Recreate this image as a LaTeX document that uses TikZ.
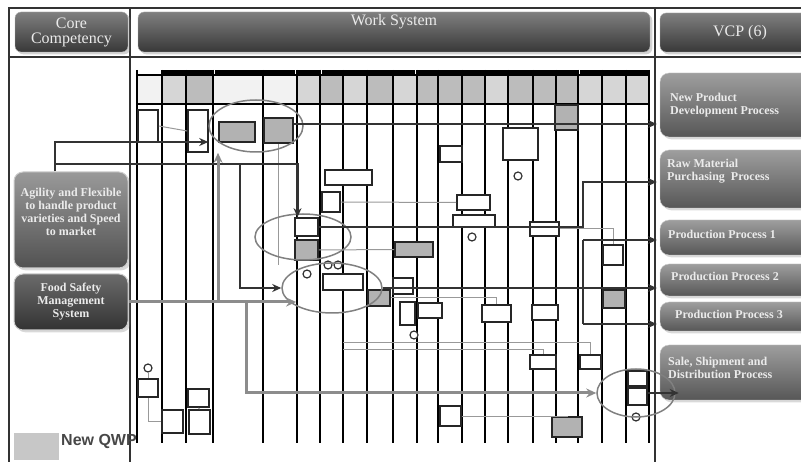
\documentclass[tikz,border=0pt]{standalone}
\usepackage{fontspec}
\setmainfont{Liberation Serif}
\setsansfont{Liberation Sans}
\usepackage{tikz}
\usetikzlibrary{shadows, shapes.geometric, positioning, arrows.meta}

\definecolor{hdrA}{HTML}{D6D6D6}
\definecolor{hdrB}{HTML}{BCBCBC}
\definecolor{hdrW}{HTML}{F2F2F2}

\begin{document}
\begin{tikzpicture}[x=1pt, y=-1pt,
        every node/.style={inner sep=0pt},
        hdrbox/.style={rectangle, rounded corners=6pt, top color=black!50, bottom color=black!78, draw=black!30, drop shadow={opacity=0.35}},
        corebox/.style={rectangle, rounded corners=9pt, draw=white!80!black, line width=1pt, drop shadow={opacity=0.3}},
        vcpbox/.style={rectangle, rounded corners=9pt, top color=black!38, bottom color=black!66, draw=white!80!black, drop shadow={opacity=0.3}},
        hdrtext/.style={font=\fontsize{16}{15}\selectfont, text=white!92!black, align=center},
        captext/.style={font=\bfseries\fontsize{12}{13}\selectfont, text=white!92!black},
        task/.style={rectangle, draw=black!85, fill=white, line width=1.7pt},
        newtask/.style={task, fill=black!30},
        conn/.style={circle, draw=black!80, fill=white, line width=1.2pt, minimum size=8pt},
        ring/.style={ellipse, draw=black!50, line width=1.5pt},
        border/.style={draw=black!80, line width=1.6pt},
        lane/.style={draw=black, line width=1.7pt},
        band/.style={draw=black, line width=3.5pt},
        flow/.style={draw=black!40, line width=1pt},
        mainarrow/.style={->, >={Stealth[length=9pt, width=8pt]}, draw=black!80, line width=2.7pt},
        fsarrow/.style={->, >={Stealth[length=10pt, width=9pt]}, draw=black!45, line width=3pt}
    ]
    \useasboundingbox (0,0) rectangle (801,462);
%
    % Frame
    \draw[border] (8,8) -- (801,8) (8,57) -- (801,57);
    \draw[border] (9,8) -- (9,462) (130,8) -- (130,462) (655,8) -- (655,462);
%
    % Headers
    \node[hdrbox, minimum width=113pt, minimum height=40pt] (core) at (71.5,32) {};
    \node[hdrtext] (core_txt) at (core) {Core\\Competency};
    \node[hdrbox, minimum width=512pt, minimum height=40pt] (work) at (394,32) {};
    \node[hdrtext] (work_txt) at (394,22) {Work System};
    \node[hdrbox, minimum width=160pt, minimum height=39pt] (vcp) at (740,32.5) {};
    \node[hdrtext] (vcp_txt) at (vcp) {VCP (6)};
%
    % Core competency side
    \node[corebox, top color=black!40, bottom color=black!68, minimum width=114pt, minimum height=96pt] (agility) at (71,220) {};
    \node[captext, align=center] (agility_txt) at (71,212) {Agility and Flexible\\to handle product\\varieties and Speed\\to market};
    \node[corebox, top color=black!58, bottom color=black!80, minimum width=114pt, minimum height=56pt, captext, align=center] (food) at (71,302) {Food Safety\\Management\\System};
%
    % VCP side
    \node[vcpbox, minimum width=160pt, minimum height=64pt] (npd) at (740,105) {};
    \node[captext, anchor=west, align=left] (npd_txt) at (670,105) {New Product\\Development Process};
    \node[vcpbox, minimum width=160pt, minimum height=58pt] (raw) at (740,179) {};
    \node[captext, anchor=west, align=left] (raw_txt) at (667,171) {Raw Material\\Purchasing\ \ Process};
    \node[vcpbox, minimum width=160pt, minimum height=35pt] (pp1) at (740,237.5) {};
    \node[captext, anchor=west] (pp1_txt) at (668,234) {Production Process 1};
    \node[vcpbox, minimum width=160pt, minimum height=32pt] (pp2) at (740,280) {};
    \node[captext, anchor=west] (pp2_txt) at (671,276) {Production Process 2};
    \node[vcpbox, minimum width=160pt, minimum height=29pt] (pp3) at (740,316.5) {};
    \node[captext, anchor=west] (pp3_txt) at (675,314) {Production Process 3};
    \node[vcpbox, minimum width=160pt, minimum height=55pt] (sale) at (740,372.5) {};
    \node[captext, anchor=west, align=left] (sale_txt) at (668,368) {Sale, Shipment and\\Distribution Process};
%
    % Work system grid
    \fill[hdrW] (137,75) rectangle (162,104) (213,75) rectangle (297,104);
    \fill[hdrA] (162,75) rectangle (186,104) (297,75) rectangle (320,104) (343,75) rectangle (367,104)
        (393,75) rectangle (417,104) (485,75) rectangle (508,104) (578,75) rectangle (649,104);
    \fill[hdrB] (186,75) rectangle (213,104) (320,75) rectangle (343,104) (367,75) rectangle (393,104)
        (417,75) rectangle (485,104) (508,75) rectangle (578,104);
    \draw[band] (162,72) -- (213,72) (215,72) -- (295,72) (298,72) -- (319,72) (322,72) -- (415,72)
        (418,72) -- (577,72) (580,72) -- (649,72);
    \draw[lane] (137,75) -- (649,75);
    \draw[lane, line width=2.2pt] (137,104) -- (649,104);
    \draw[lane] (137,70) -- (137,443) (162,70) -- (162,443) (186,70) -- (186,443) (213,70) -- (213,443)
        (263,70) -- (263,443) (297,70) -- (297,443) (320,70) -- (320,443) (343,70) -- (343,443)
        (367,70) -- (367,443) (393,70) -- (393,443) (417,70) -- (417,443) (438,70) -- (438,443)
        (462,70) -- (462,443) (485,70) -- (485,443) (508,70) -- (508,443) (533,70) -- (533,443)
        (556,70) -- (556,443) (578,70) -- (578,443) (602,70) -- (602,443) (626,70) -- (626,443)
        (649,70) -- (649,443);
%
    % Steps
    \node[task, minimum width=20pt, minimum height=32pt] (t1) at (148,126) {};
    \node[task, minimum width=20pt, minimum height=42pt] (t2) at (198,131) {};
    \node[newtask, minimum width=36pt, minimum height=20pt] (n1) at (237,132) {};
    \node[newtask, minimum width=29pt, minimum height=25pt] (n2) at (278.5,130.5) {};
    \node[newtask, minimum width=23pt, minimum height=25pt] (n3) at (566.5,117.5) {};
    \node[task, minimum width=22pt, minimum height=16pt] (t3) at (451,154) {};
    \node[task, minimum width=35pt, minimum height=32pt] (t4) at (520.5,144) {};
    \node[task, minimum width=47pt, minimum height=15pt] (t5) at (348.5,177.5) {};
    \node[task, minimum width=18pt, minimum height=20pt] (t6) at (331,202) {};
    \node[task, minimum width=23pt, minimum height=18pt] (t7) at (306.5,227) {};
    \node[newtask, minimum width=23pt, minimum height=20pt] (n4) at (306.5,250) {};
    \node[task, minimum width=40pt, minimum height=16pt] (t8) at (343,282) {};
    \node[newtask, minimum width=38pt, minimum height=15pt] (n5) at (414,249.5) {};
    \node[newtask, minimum width=22pt, minimum height=16pt] (n6) at (379,298) {};
    \node[task, minimum width=20pt, minimum height=16pt] (t9) at (403,286) {};
    \node[task, minimum width=33pt, minimum height=15pt] (t10) at (473.5,202.5) {};
    \node[task, minimum width=42pt, minimum height=12pt] (t11) at (474,221) {};
    \node[task, minimum width=29pt, minimum height=14pt] (t12) at (544.5,229) {};
    \node[task, minimum width=20pt, minimum height=20pt] (t13) at (613,255) {};
    \node[newtask, minimum width=22pt, minimum height=18pt] (n7) at (614,299) {};
    \node[task, minimum width=15pt, minimum height=23pt] (t14) at (407.5,313.5) {};
    \node[task, minimum width=24pt, minimum height=15pt] (t15) at (430,310.5) {};
    \node[task, minimum width=29pt, minimum height=17pt] (t16) at (496.5,313.5) {};
    \node[task, minimum width=26pt, minimum height=15pt] (t17) at (545,312.5) {};
    \node[task, minimum width=26pt, minimum height=14pt] (t18) at (543,362) {};
    \node[task, minimum width=21pt, minimum height=14pt] (t19) at (590.5,362) {};
    \node[task, minimum width=19pt, minimum height=15pt] (t20) at (637.5,378.5) {};
    \node[task, minimum width=19pt, minimum height=17pt] (t21) at (637.5,396.5) {};
    \node[task, minimum width=21pt, minimum height=20pt] (t22) at (450.5,416) {};
    \node[newtask, minimum width=30pt, minimum height=20pt] (n8) at (567,427) {};
    \node[task, minimum width=20pt, minimum height=18pt] (t23) at (148,388) {};
    \node[task, minimum width=21pt, minimum height=23pt] (t24) at (172.5,421.5) {};
    \node[task, minimum width=21pt, minimum height=18pt] (t25) at (198.5,398) {};
    \node[task, minimum width=21pt, minimum height=24pt] (t26) at (199.5,422) {};
%
    \node[conn] (c1) at (148,368) {};
    \node[conn] (c2) at (518,176) {};
    \node[conn] (c3) at (472,237) {};
    \node[conn] (c4) at (328,265) {};
    \node[conn] (c5) at (338,265) {};
    \node[conn] (c6) at (307,274) {};
    \node[conn] (c7) at (636,417) {};
    \node[conn] (c8) at (414,335) {};
%
    % Thin flows
    \coordinate (lane_a) at (343,343);
    \coordinate (lane_b) at (343,350);
    \draw[flow] (t1.east) -- (t2.west);
    \draw[flow] (n2.south) -- (n2.south |- c4);
    \draw[flow] (t6.east) -- (t10.west);
    \draw[flow] (n4.east) -- (n5.west);
    \draw[flow] (t12.east) -| (t13.north);
    \draw[flow] (n6.east) -| (t16.north);
    \draw[flow] (lane_a) -| (t19.north);
    \draw[flow] (lane_b) -| (t18.north);
    \draw[flow] (t22.east) -| (n8.north);
    \draw[flow] (t23.south) |- (t24.west);
    \draw[flow] (t25.south) -- (t26.north);
    \draw[flow] (c1) -- (t23);
%
    % Groups
    \node[ring, minimum width=94pt, minimum height=52pt] (e1) at (256,126) {};
    \node[ring, minimum width=96pt, minimum height=46pt] (e2) at (303,237) {};
    \node[ring, minimum width=100pt, minimum height=50pt] (e3) at (332,288) {};
    \node[ring, minimum width=78pt, minimum height=48pt] (e4) at (636,393) {};
%
    % Links to the value creation processes
    \coordinate (npd_row) at (600,124);
    \coordinate (rw_turn) at (583,182);
    \coordinate (pp_top) at (583,240);
    \coordinate (pp_bot) at (583,324);
    \draw[mainarrow, shorten >=3pt] (n2.east |- npd_row) -- (npd.west |- npd_row);
    \draw[mainarrow, shorten >=3pt] (t7.east) -| (rw_turn) -- (raw.west |- rw_turn);
    \draw[mainarrow, shorten >=3pt] (e3.east) -- (pp2.west |- e3.east);
    \draw[mainarrow, -] (pp_top) -- (pp_bot);
    \draw[mainarrow, shorten >=3pt] (pp_top) -- (pp1.west |- pp_top);
    \draw[mainarrow, shorten >=3pt] (pp_bot) -- (pp3.west |- pp_bot);
    \draw[mainarrow] (t20.east |- e4.center) -- ([xshift=3pt]e4.east);
%
    % Links from the core competencies
    \coordinate (ag_a) at (55,142);
    \coordinate (ag_b) at (55,164);
    \coordinate (ag_c) at (240,164);
    \draw[mainarrow] (agility.north -| ag_a) |- (e1.west |- ag_a);
    \draw[mainarrow] (ag_b) -| ([xshift=-9pt]t7.north);
    \draw[mainarrow] (ag_c) |- (e3.west);
%
    \coordinate (fs_up) at (218,302);
    \coordinate (fs_down) at (246,302);
    \draw[fsarrow] (food.east) -- (food.east -| e3.south west);
    \draw[fsarrow] (fs_up) -- (fs_up |- e1.south);
    \draw[fsarrow] (fs_down) |- (e4.west);
%
    % Legend
    \node[fill=black!22, minimum width=45pt, minimum height=27pt] (qwp_key) at (36.5,446.5) {};
    \node[anchor=west, font=\sffamily\bfseries\fontsize{16}{16}\selectfont, text=black!72] (qwp_txt) at (61,441) {New QWP};
%
\end{tikzpicture}
\end{document}
